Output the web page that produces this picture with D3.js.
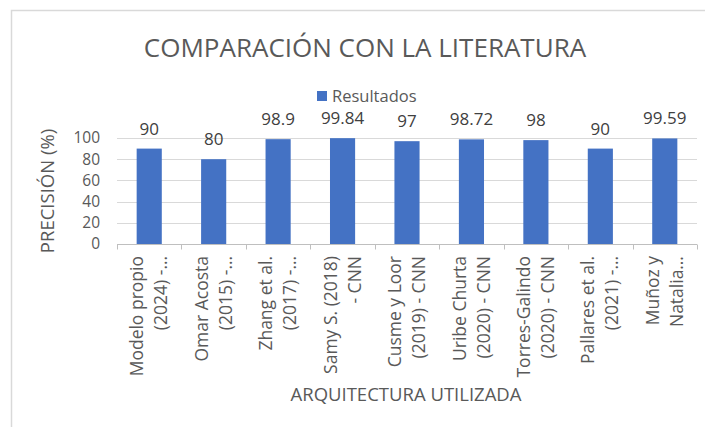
<!DOCTYPE html>
<html>
<head>
<meta charset="utf-8">
<script src="https://cdn.jsdelivr.net/npm/d3@7"></script>
<style>
  body { margin: 0; background: #fff; }
  #chart { width: 705px; height: 427px; }
  text { font-family: "Open Sans", "Noto Sans", sans-serif; fill: #595959; }
</style>
</head>
<body>
<div id="chart"></div>
<script>
const width = 705;
const height = 427;

// data
const categories = [
  ["Modelo propio", "(2024) -…"],
  ["Omar Acosta", "(2015) -…"],
  ["Zhang et al.", "(2017) -…"],
  ["Samy S. (2018)", "- CNN"],
  ["Cusme y Loor", "(2019) - CNN"],
  ["Uribe Churta", "(2020) - CNN"],
  ["Torres-Galindo", "(2020) - CNN"],
  ["Pallares et al.", "(2021) -…"],
  ["Muñoz y", "Natalia…"],
];
const resultados = [90, 80, 98.9, 99.84, 97, 98.72, 98, 90, 99.59];
const yTicks = [0, 20, 40, 60, 80, 100];

const margin = { top: 138, right: 8, bottom: 183, left: 117 };

const svg = d3
  .select("#chart")
  .append("svg")
  .attr("width", width)
  .attr("height", height);

// chart frame
svg.append("path")
  .attr("d", `M11.5,${height} V10.5 H${width}`)
  .attr("fill", "none")
  .attr("stroke", "#d9d9d9")
  .attr("stroke-width", 1.5);

const x = d3
  .scaleBand()
  .domain(d3.range(categories.length))
  .range([margin.left, width - margin.right])
  .paddingInner(0.61)
  .paddingOuter(0.305);

const xOuter = d3
  .scaleBand()
  .domain(d3.range(categories.length))
  .range([margin.left, width - margin.right]);

const y = d3
  .scaleLinear()
  .domain([0, 100])
  .range([height - margin.bottom, margin.top]);

// gridlines
svg.append("g")
  .selectAll("line")
  .data(yTicks.slice(1))
  .enter()
  .append("line")
  .attr("x1", margin.left)
  .attr("x2", width - margin.right)
  .attr("y1", (d) => Math.round(y(d)) + 0.5)
  .attr("y2", (d) => Math.round(y(d)) + 0.5)
  .attr("stroke", "#d9d9d9")
  .attr("stroke-width", 1);

// y tick labels
svg.append("g")
  .selectAll("text")
  .data(yTicks)
  .enter()
  .append("text")
  .attr("x", 100)
  .attr("y", (d) => y(d))
  .attr("dy", "0.35em")
  .attr("text-anchor", "end")
  .attr("font-size", 15.5)
  .text((d) => d);

// bars
svg.append("g")
  .selectAll("rect")
  .data(resultados)
  .enter()
  .append("rect")
  .attr("x", (d, i) => x(i))
  .attr("y", (d) => y(d))
  .attr("width", x.bandwidth())
  .attr("height", (d) => y(0) - y(d))
  .attr("fill", "#4472c4");

// data labels
svg.append("g")
  .selectAll("text")
  .data(resultados)
  .enter()
  .append("text")
  .attr("x", (d, i) => x(i) + x.bandwidth() / 2)
  .attr("y", (d) => y(d) - 14)
  .attr("text-anchor", "middle")
  .attr("font-size", 17)
  .style("fill", "#404040")
  .text((d) => d);

// x axis line and ticks
const axisY = Math.round(y(0)) + 0.5;
svg.append("line")
  .attr("x1", margin.left)
  .attr("x2", width - margin.right)
  .attr("y1", axisY)
  .attr("y2", axisY)
  .attr("stroke", "#bfbfbf");

svg.append("g")
  .selectAll("line")
  .data(d3.range(categories.length + 1))
  .enter()
  .append("line")
  .attr("x1", (d) => Math.round(margin.left + d * xOuter.step()) + 0.5)
  .attr("x2", (d) => Math.round(margin.left + d * xOuter.step()) + 0.5)
  .attr("y1", axisY)
  .attr("y2", axisY + 5)
  .attr("stroke", "#bfbfbf");

// category labels, rotated
const catLabels = svg.append("g")
  .selectAll("g")
  .data(categories)
  .enter()
  .append("g")
  .attr("transform", (d, i) =>
    `translate(${xOuter(i) + xOuter.bandwidth() / 2}, 256) rotate(-90)`);

catLabels.each(function (d) {
  const g = d3.select(this);
  d.forEach((line, j) => {
    g.append("text")
      .attr("x", 0)
      .attr("y", (j - (d.length - 1) / 2) * 24)
      .attr("dy", "0.35em")
      .attr("text-anchor", "end")
      .attr("font-size", 17.5)
      .text(line);
  });
});

// title
svg.append("text")
  .attr("x", 365)
  .attr("y", 57)
  .attr("text-anchor", "middle")
  .attr("font-size", 26)
  .text("COMPARACIÓN CON LA LITERATURA");

// legend
svg.append("rect")
  .attr("x", 317)
  .attr("y", 91)
  .attr("width", 10)
  .attr("height", 10)
  .attr("fill", "#4472c4");

svg.append("text")
  .attr("x", 332)
  .attr("y", 96)
  .attr("dy", "0.35em")
  .attr("font-size", 16.5)
  .text("Resultados");

// axis titles
svg.append("text")
  .attr("transform", "translate(48, 191) rotate(-90)")
  .attr("text-anchor", "middle")
  .attr("dy", "0.35em")
  .attr("font-size", 18.5)
  .text("PRECISIÓN (%)");

svg.append("text")
  .attr("x", 406)
  .attr("y", 395)
  .attr("dy", "0.35em")
  .attr("text-anchor", "middle")
  .attr("font-size", 18.5)
  .text("ARQUITECTURA UTILIZADA");
</script>
</body>
</html>
